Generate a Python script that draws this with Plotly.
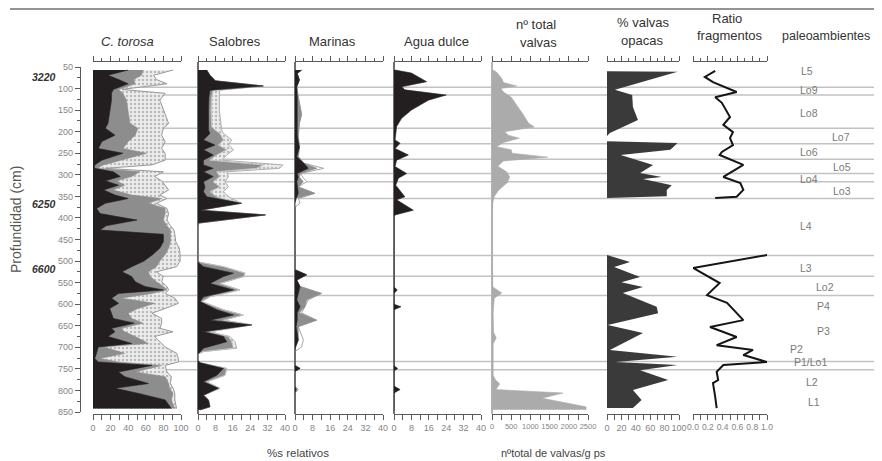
import plotly.graph_objects as go
import numpy as np

# The page body adds an 8 px margin, so the figure is drawn 8 px smaller and
# every reference pixel position is shifted by that offset.
REF_W, REF_H = 882, 461
OFF = 8
W, H = REF_W - OFF, REF_H - OFF
FONT = "Liberation Sans, Arial, sans-serif"
NARROW = "Liberation Sans Narrow, Arial Narrow, Liberation Sans, sans-serif"

# ------------------------------------------------------------------ data
# C. torosa (% relative): three stacked components
ct_depth = [57, 69, 79, 89, 102, 111, 127, 157, 181, 192, 208, 223, 239, 250, 266, 277, 285, 293, 304, 314,
            324, 335, 347, 355, 366, 378, 390, 405, 418, 428, 438, 455, 470, 485, 500, 513, 525, 536, 548, 559,
            567, 575, 586, 598, 610, 621, 633, 644, 656, 664, 675, 691, 699, 714, 726, 734, 742, 757, 768, 784,
            795, 807, 822, 842]
ct_black = [40, 17, 29, 40, 23, 21, 21, 19, 17, 14, 25, 10, 6, 34, 10, 2, 1.5, 23, 31, 14,
            29, 12, 25, 40, 14, 4, 8, 50, 15, 8, 80, 80, 76, 68, 58, 44, 33, 44, 48, 59,
            80, 29, 21, 29, 19, 21, 23, 47, 21, 25, 17, 44, 6, 4, 2, 6, 67, 29, 36, 63,
            25, 52, 82, 89]
ct_gray = [17, 38, 17, 8, 6, 13, 17, 21, 25, 37, 23, 30, 28, 27, 22, 10, 2.5, 30, 13, 13,
           7, 11, 19, 38, 49, 78, 74, 30, 69, 80, 8, 8, 10, 14, 18, 28, 30, 21, 24, 21,
           4, 38, 11, 41, 32, 19, 21, 10, 11, 11, 31, 19, 6, 32, 6, 23, 11, 19, 46, 23,
           62, 39, 7, 4]
ct_dotted = [34, 14, 26, 36, 4, 48, 38, 42, 44, 29, 30, 42, 44, 21, 50, 55, 10, 27, 26, 51,
             46, 63, 32, 6, 9, 2, 4, 4, 4, 4, 5, 6, 12, 17, 23, 23, 9, 15, 6, 4,
             2, 15, 61, 27, 31, 27, 34, 21, 44, 55, 22, 15, 70, 59, 89, 68, 4, 36, 7, 2,
             4, 2, 4, 2]

# Salobres (% relative)
sal_depth = [57, 69, 82, 94, 104, 120, 150, 188, 196, 204, 219, 231, 242, 254, 266, 277, 285, 293, 304, 316,
             328, 339, 351, 366, 382, 393, 412, 420, 498, 503, 513, 528, 536, 552, 567, 583, 594, 613, 625, 637,
             648, 664, 675, 687, 702, 710, 716, 730, 736, 749, 765, 780, 795, 811, 822, 838, 845]
sal_black = [4, 5.5, 8, 30, 5.5, 5, 4.8, 4.8, 4.8, 5.5, 2.5, 7.8, 2.5, 7, 2.5, 2.5, 7, 2.5, 7, 2.5,
             3.2, 2.5, 4, 20, 1, 31, 0.2, 0, 0, 0, 2.5, 16.3, 11.7, 5.5, 16.3, 2.5, 1, 8.6, 16.3, 5.5,
             24.7, 2.5, 11.7, 13.2, 2.5, 1, 0, 0, 1, 11.7, 8.6, 2.5, 9.4, 2.5, 4.8, 5.5, 1]
sal_gray = [0, 0, 0, 0, 1.5, 1.3, 1.2, 1.5, 3, 4.5, 9.2, 1.6, 10.7, 1.6, 3, 27.5, 20, 6.1, 3, 4.5,
            6.8, 3, 4.6, 0, 0, 0, 0, 0, 0, 1, 9.2, 5.3, 9.3, 4.5, 3, 3, 0.7, 3.1, 4.5, 6.2,
            0, 3, 2.3, 2.3, 13.8, 1.5, 0, 0, 0, 1.5, 3.8, 1.5, 0.7, 0, 0, 0, 0]
sal_dotted = [0, 0, 0, 0, 3, 3.5, 3.8, 4.6, 3.1, 1.7, 3.8, 4.6, 3.1, 4.6, 5.4, 9, 10.5, 4.6, 4, 5.4,
              4, 6.2, 5.4, 0, 0, 0, 0, 0, 0, 0, 0, 0, 0, 0, 0, 0, 0, 0, 0, 0,
              0, 0, 0.7, 1.5, 1.5, 0, 0, 0, 0, 0, 0, 0, 0, 0, 0, 0, 0]

# Marinas (% relative)
mar_depth = [57, 65, 80, 96, 120, 160, 180, 210, 236, 258, 273, 285, 297, 305, 316, 328, 343, 355, 366, 375,
             520, 532, 544, 559, 575, 590, 606, 620, 637, 652, 683, 699, 710, 742, 749, 756, 790, 798, 806, 845]
mar_black = [3, 1, 2, 0.8, 1, 1, 1, 1, 2, 0.8, 4, 6, 1, 1.5, 0.8, 1, 1.5, 0.5, 0, 0,
             0, 5.3, 0.8, 2.3, 1.5, 0.8, 2.3, 1, 1, 0.5, 1.5, 0.3, 0, 0, 2.3, 0, 0, 0.5, 0, 0]
mar_gray = [0, 0, 0, 0, 0.5, 2, 1, 0.5, 0, 0.7, 0, 4, 1.5, 0.5, 3, 0.5, 7.5, 0, 0, 0,
            0, 0, 0, 0, 10.5, 4.5, 2.2, 1, 8.8, 1, 0, 0, 0, 0, 0, 0, 0, 0.5, 0, 0]
mar_white = [0, 0, 0, 0, 0, 0, 0, 0, 0, 0, 0, 3, 0, 1.5, 1.5, 0, 0, 1, 2.3, 0,
             0, 0, 0, 0, 0, 0.7, 0, 1, 0, 0, 2.3, 2.7, 0, 0, 0, 0, 0, 0.5, 0, 0]

# Agua dulce (% relative)
ad_depth = [57, 64, 84, 96, 103, 115, 127, 150, 169, 188, 219, 227, 239, 254, 266, 281, 297, 308, 324, 351,
            358, 382, 393, 397, 560, 567, 575, 600, 606, 613, 743, 749, 755, 790, 798, 806, 845]
ad_val = [0.5, 8, 15, 3.5, 5, 24, 15.8, 8, 3.5, 1.2, 0.5, 2.8, 0.5, 6.6, 1.2, 0.5, 5.8, 2, 0.8, 5,
          1.2, 8.9, 0.5, 0, 0, 1.5, 0, 0, 3.2, 0, 0, 1.7, 0, 0, 2.8, 0, 0]

# nº total de valvas / g ps
nt_depth = [57, 62, 76, 86, 94, 100, 108, 120, 157, 180, 189, 200, 208, 215, 225, 235, 242, 250, 259, 268,
            280, 293, 305, 318, 335, 350, 365, 400, 500, 560, 574, 586, 620, 665, 678, 692, 765, 775, 785, 798,
            806, 818, 838, 845]
nt_val = [30, 120, 250, 300, 640, 230, 300, 500, 790, 950, 1100, 330, 420, 710, 300, 120, 500, 520, 1450, 300,
          150, 380, 460, 400, 180, 60, 20, 10, 10, 20, 255, 60, 30, 40, 110, 30, 30, 90, 200, 100,
          1850, 1300, 2450, 2450]

# % valvas opacas
op_depth = [60, 61, 103, 115, 143, 173, 203, 210, 222, 226, 242, 254, 277, 296, 305, 310, 324, 335, 350, 354,
            486, 502, 514, 537, 549, 560, 574, 606, 621, 648, 667, 706, 722, 734, 741, 753, 776, 799, 822, 841]
op_val = [0, 98, 11, 35, 36, 43, 4, 0, 0, 98, 88, 19, 64, 46, 76, 50, 90, 83, 83, 0,
          0, 32, 10, 46, 20, 50, 22, 69, 71, 1, 50, 4, 98, 12, 98, 46, 85, 36, 48, 36]

# Ratio fragmentos (None = gap in the record)
rf_depth = [59, 73, 85, 108, 120, 133, 166, 184, 201, 215, 231, 247, 254, 277, 305, 319, 335, 351, 354, None,
            486, 516, 551, 579, 597, 637, 653, 676, 695, 706, 718, 734, 741, 757, 776, 783, 815, 841]
rf_val = [0.30, 0.16, 0.27, 0.59, 0.30, 0.39, 0.50, 0.41, 0.54, 0.50, 0.54, 0.39, 0.36, 0.68, 0.41, 0.64, 0.68,
          0.59, 0.30, None,
          1.0, 0.0, 0.36, 0.19, 0.46, 0.68, 0.23, 0.59, 0.32, 0.81, 0.68, 1.0, 0.41, 0.32, 0.34, 0.27, 0.30, 0.32]

# zone boundaries (cm)
bound_depths = [97, 115, 192, 228, 264, 297, 316, 355, 487, 535, 580, 733, 752]

# ages (yr) and depth
age_labels = ["3220", "6250", "6600"]
age_depths = [73, 368, 518]

# paleoenvironment labels
paleo_labels = ["L5", "Lo9", "Lo8", "Lo7", "Lo6", "Lo5", "Lo4", "Lo3", "L4", "L3", "Lo2",
                "P4", "P3", "P2", "P1/Lo1", "L2", "L1"]

# depth axis
depth_ticks = list(range(50, 851, 50))

# ------------------------------------------------------------------ layout helpers
def xp(px):
    return (px - OFF) / W


def yp(py):
    return 1 - (py - OFF) / H


paleo_pos = [(807, 71), (809, 90), (809, 113), (841, 137), (809, 152), (842, 167), (809, 179), (842, 191),
             (806, 226), (806, 268), (825, 287), (823, 306), (823, 331), (796, 349), (810, 362), (812, 382),
             (814, 402)]

# x0, x1 (px), max, minor step, label step, tickformat
panel_geo = [
    (93, 181, 100, 10, 20, "d"),
    (198, 285, 40, 4, 8, "d"),
    (295, 383, 40, 4, 8, "d"),
    (394, 481, 40, 4, 8, "d"),
    (492, 588, 2500, 250, 500, "d"),
    (607, 679, 100, 10, 20, "d"),
    (693, 767, 1.0, 0.1, 0.2, ".1f"),
]
zero_lines = {2: "#6e6e6e", 3: "#6e6e6e", 4: "#6e6e6e", 5: "#b4b4b4"}

BLACK = "#231f20"
GRAY = "#8d8d8d"
AXC = "#5a5a5a"
TICKFONT = dict(family=FONT, size=9, color="#858585")
TICKFONT_S = dict(family=NARROW, size=7.5, color="#858585")
TICKFONT_R = dict(family=NARROW, size=8.5, color="#858585")


def xref(n):
    return "x" if n == 1 else f"x{n}"


fig = go.Figure()


def area(x, y, n, fill, line, lw=0.8, pattern=None):
    kw = dict(x=x, y=y, xaxis=xref(n), yaxis="y", mode="lines", fill="tozerox",
              fillcolor=fill, line=dict(color=line, width=lw), hoverinfo="skip", showlegend=False)
    if pattern is not None:
        kw["fillpattern"] = pattern
    fig.add_trace(go.Scatter(**kw))


dots = dict(shape=".", fgcolor="#8a8a8a", bgcolor="#ececec", size=4, solidity=0.3)

# C. torosa
c1 = np.array(ct_black, float)
c2 = c1 + np.array(ct_gray, float)
c3 = c2 + np.array(ct_dotted, float)
area(c3, ct_depth, 1, "#ececec", "#9a9a9a", 1.0, dots)
area(c2, ct_depth, 1, GRAY, GRAY, 0.6)
area(c1, ct_depth, 1, BLACK, BLACK, 0.6)

# Salobres
s1 = np.array(sal_black, float)
s2 = s1 + np.array(sal_gray, float)
s3 = s2 + np.array(sal_dotted, float)
area(s3, sal_depth, 2, "#ececec", "#b0b0b0", 1.0, dots)
area(s2, sal_depth, 2, GRAY, "#c4c4c4", 1.0)
area(s1, sal_depth, 2, BLACK, BLACK, 0.6)

# Marinas
m1 = np.array(mar_black, float)
m2 = m1 + np.array(mar_gray, float)
m3 = m2 + np.array(mar_white, float)
area(m3, mar_depth, 3, "#ffffff", "#a8a8a8", 1.0)
area(m2, mar_depth, 3, GRAY, GRAY, 0.6)
area(m1, mar_depth, 3, BLACK, BLACK, 0.6)

# Agua dulce
area(ad_val, ad_depth, 4, BLACK, BLACK, 0.6)

# nº total
area(nt_val, nt_depth, 5, "#ababab", "#ababab", 0.6)

# % valvas opacas
area(op_val, op_depth, 6, "#3a3a3a", "#3a3a3a", 0)

# Ratio fragmentos
fig.add_trace(go.Scatter(x=rf_val, y=rf_depth, xaxis="x7", yaxis="y", mode="lines",
                         line=dict(color="#151515", width=2), connectgaps=False,
                         hoverinfo="skip", showlegend=False))

# invisible traces to activate top axes and depth axis
for n in range(1, 8):
    fig.add_trace(go.Scatter(x=[None], y=[None], xaxis=f"x{n + 7}", yaxis="y",
                             showlegend=False, hoverinfo="skip"))
fig.add_trace(go.Scatter(x=[None], y=[None], xaxis="x", yaxis="y2", showlegend=False, hoverinfo="skip"))

# ------------------------------------------------------------------ axes
axes = {}
for i, (x0, x1, rmax, step, lab, fmt) in enumerate(panel_geo):
    n = i + 1
    dom = [xp(x0), xp(x1)]
    tf = TICKFONT_S if n == 5 else (TICKFONT_R if n == 7 else TICKFONT)
    bottom = dict(domain=dom, range=[0, rmax], anchor="y", side="bottom",
                  showline=True, linecolor=AXC, linewidth=1.2,
                  ticks="outside", ticklen=5, tickwidth=1, tickcolor=AXC,
                  tickmode="linear", tick0=0, dtick=lab, tickformat=fmt, tickangle=0,
                  minor=dict(ticks="outside", ticklen=5, tickwidth=1, tickcolor=AXC, dtick=step, showgrid=False),
                  tickfont=tf, showgrid=False, fixedrange=True, automargin=False)
    if n in zero_lines:
        bottom.update(zeroline=True, zerolinecolor=zero_lines[n], zerolinewidth=1.5)
    else:
        bottom.update(zeroline=False)
    top = dict(domain=dom, range=[0, rmax], anchor="y", side="top", overlaying=xref(n),
               showline=True, linecolor=AXC, linewidth=1.2,
               ticks="outside", ticklen=5, tickwidth=1, tickcolor=AXC,
               tickmode="linear", tick0=0, dtick=lab,
               minor=dict(ticks="outside", ticklen=2.5, tickwidth=1, tickcolor=AXC, dtick=step, showgrid=False),
               showticklabels=False, showgrid=False, zeroline=False, fixedrange=True, automargin=False)
    axes["xaxis" if n == 1 else f"xaxis{n}"] = bottom
    axes[f"xaxis{n + 7}"] = top

axes["yaxis"] = dict(domain=[yp(414), yp(62)], range=[854.64, 38.41], visible=False, fixedrange=True)
axes["yaxis2"] = dict(domain=[yp(412), yp(67)], range=[850, 50], anchor="free", position=xp(80), side="left",
                      showline=True, linecolor=AXC, linewidth=1.2, ticks="outside", ticklen=5, tickwidth=1,
                      tickcolor=AXC, tickmode="array", tickvals=depth_ticks,
                      minor=dict(ticks="outside", ticklen=3, tickwidth=1, tickcolor=AXC, dtick=25, tick0=25,
                                 showgrid=False),
                      tickfont=TICKFONT, showgrid=False, zeroline=False, fixedrange=True, automargin=False)

fig.update_layout(**axes)

# ------------------------------------------------------------------ shapes
shapes = [dict(type="line", xref="paper", yref="y", x0=xp(93), x1=1.0, y0=d, y1=d,
               line=dict(color="#c2c2c2", width=1.5), layer="below") for d in bound_depths]
shapes.append(dict(type="line", xref="paper", yref="paper", x0=xp(10), x1=1.0, y0=yp(9), y1=yp(9),
                   line=dict(color="#707070", width=1.6)))

# ------------------------------------------------------------------ annotations
ann = []


def text(t, x, y, size=13, color="#333333", family=FONT, **kw):
    d = dict(text=t, x=xp(x), y=yp(y), xref="paper", yref="paper", showarrow=False,
             xanchor="center", yanchor="middle", font=dict(size=size, color=color, family=family))
    d.update(kw)
    ann.append(d)


text("<i>C. torosa</i>", 127, 42)
text("Salobres", 235, 42)
text("Marinas", 332, 42)
text("Agua dulce", 436, 42)
text("nº total", 536, 25)
text("valvas", 538, 43)
text("% valvas", 643, 23)
text("opacas", 642, 40)
text("Ratio", 727, 18)
text("fragmentos", 730, 36)
text("paleoambientes", 826, 36, size=12.5)
text("Profundidad (cm)", 16, 220, size=14, color="#555555", textangle=-90)
text("%s relativos", 298, 453, size=11.5, color="#444444")
text("nºtotal de valvas/g ps", 553, 453, size=11, color="#444444")

for lab, (px, py) in zip(paleo_labels, paleo_pos):
    text(lab, px, py, size=10.5, color="#7a7a7a", family=NARROW)

for lab, d in zip(age_labels, age_depths):
    ann.append(dict(text=f"<b><i>{lab}</i></b>", x=xp(44), y=d, xref="paper", yref="y2", showarrow=False,
                    xanchor="center", yanchor="middle", font=dict(size=10.5, color="#333333", family=FONT)))

fig.update_layout(width=W, height=H, margin=dict(l=0, r=0, t=0, b=0, pad=0, autoexpand=False),
                  paper_bgcolor="white", plot_bgcolor="rgba(0,0,0,0)", showlegend=False,
                  font=dict(family=FONT), shapes=shapes, annotations=ann)

fig.write_html("out.html")
